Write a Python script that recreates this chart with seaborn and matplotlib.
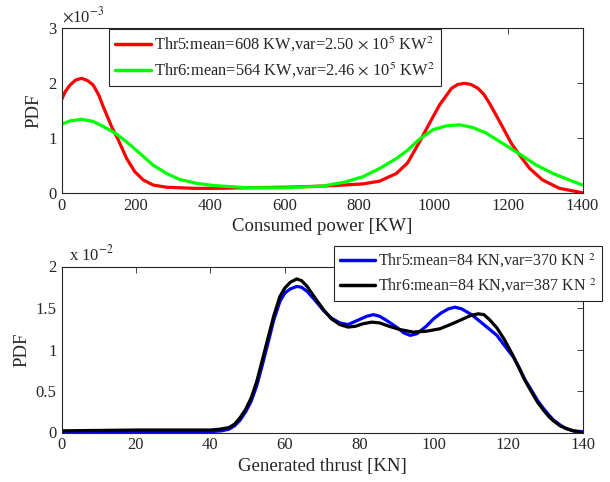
import numpy as np
import pandas as pd
import matplotlib
matplotlib.use("Agg")
import matplotlib.pyplot as plt
import seaborn as sns

# ---- data (top: power, PDF in units of 1e-3) ----
p5_x = [0, 10, 23, 38, 54, 70, 85, 100, 112, 135, 153, 175, 197, 220, 246, 282, 354, 420, 500, 600, 700, 760, 810, 855,
        900, 930, 962, 989, 1016, 1048, 1065, 1083, 1100, 1119, 1135, 1150, 1182, 1209, 1231, 1258, 1293, 1338, 1400]
p5_y = [1.69, 1.84, 1.96, 2.05, 2.08, 2.04, 1.96, 1.78, 1.57, 1.20, 0.96, 0.63, 0.39, 0.24, 0.15, 0.11, 0.09, 0.09, 0.10, 0.11, 0.13, 0.15, 0.17, 0.22,
        0.36, 0.55, 0.93, 1.27, 1.60, 1.90, 1.97, 1.99, 1.97, 1.90, 1.79, 1.63, 1.24, 0.90, 0.69, 0.45, 0.24, 0.09, 0.01]
p6_x = [0, 23, 54, 85, 112, 144, 175, 211, 246, 282, 318, 363, 410, 457, 500, 600, 700, 760, 810, 855,
        900, 930, 962, 998, 1034, 1070, 1105, 1141, 1186, 1231, 1276, 1320, 1365, 1400]
p6_y = [1.25, 1.31, 1.34, 1.30, 1.21, 1.09, 0.93, 0.72, 0.51, 0.36, 0.25, 0.18, 0.14, 0.12, 0.10, 0.10, 0.13, 0.20, 0.30, 0.45,
        0.63, 0.78, 0.98, 1.15, 1.22, 1.24, 1.19, 1.09, 0.90, 0.71, 0.51, 0.36, 0.24, 0.15]

# ---- data (bottom: thrust, PDF in units of 1e-2) ----
t5_x = [0, 20, 40, 43, 45, 46.5, 48, 49.5, 51, 52.5, 54, 55.5, 57, 58.7, 60, 61.5, 63.2, 64.5, 66, 68,
        70.4, 72.5, 74.8, 77, 80, 82, 83.8, 85.5, 87, 90, 92, 93.7, 95.5, 98, 100, 102, 104, 105.7, 107.5, 110.2,
        113.5, 117, 119, 121.4, 123, 124.5, 126.8, 128, 129.5, 131, 132.2, 134, 135.5, 137.5, 140]
t5_y = [0.01, 0.01, 0.01, 0.02, 0.04, 0.08, 0.15, 0.25, 0.38, 0.57, 0.82, 1.08, 1.35, 1.58, 1.68, 1.73, 1.76, 1.75, 1.70, 1.60,
        1.47, 1.38, 1.32, 1.30, 1.36, 1.40, 1.42, 1.40, 1.36, 1.27, 1.20, 1.17, 1.19, 1.28, 1.37, 1.44, 1.49, 1.51, 1.49, 1.42,
        1.30, 1.17, 1.05, 0.91, 0.78, 0.64, 0.47, 0.38, 0.29, 0.21, 0.15, 0.09, 0.05, 0.02, 0.01]
t6_x = [0, 20, 40, 42.6, 45, 46.5, 48, 49.5, 51, 52.5, 54, 55.5, 57, 58.7, 60, 61.5, 63.2, 64.5, 66, 68,
        70.4, 72.5, 74.8, 77, 79, 81, 83.4, 85.5, 88, 91, 94.5, 98, 101.7, 105, 108, 110, 112, 113.5, 115, 117,
        119, 121.4, 123, 124.5, 126.8, 128, 129.5, 131, 132.2, 134, 135.5, 137.5, 140]
t6_y = [0.02, 0.03, 0.03, 0.04, 0.06, 0.10, 0.18, 0.28, 0.42, 0.62, 0.88, 1.14, 1.40, 1.64, 1.74, 1.81, 1.85, 1.83, 1.76, 1.63,
        1.48, 1.37, 1.30, 1.27, 1.28, 1.31, 1.33, 1.32, 1.28, 1.24, 1.21, 1.22, 1.25, 1.31, 1.37, 1.41, 1.43, 1.42, 1.36, 1.26,
        1.12, 0.92, 0.77, 0.63, 0.45, 0.36, 0.27, 0.19, 0.14, 0.08, 0.05, 0.02, 0.00]

top_labels = [r"Thr5:mean=608 KW,var=2.50 $\times$ 10$^5$ KW$^2$",
              r"Thr6:mean=564 KW,var=2.46 $\times$ 10$^5$ KW$^2$"]
bot_labels = [r"Thr5:mean=84 KN,var=370 KN $^2$",
              r"Thr6:mean=84 KN,var=387 KN $^2$"]
top_xticks = [0, 200, 400, 600, 800, 1000, 1200, 1400]
top_yticks = [0, 1, 2, 3]
bot_xticks = [0, 20, 40, 60, 80, 100, 120, 140]
bot_yticks = [0, 0.5, 1, 1.5, 2]
bot_yticklabels = ["0", "0.5", "1", "1.5", "2"]

sns.set_style("white")
plt.rcParams["font.family"] = ["Liberation Serif", "DejaVu Serif"]
plt.rcParams["mathtext.fontset"] = "stix"
plt.rcParams["xtick.direction"] = "in"
plt.rcParams["ytick.direction"] = "in"

fig = plt.figure(figsize=(6.1, 4.82), dpi=100)
W, H = 610, 482
ax1 = fig.add_axes([61.5 / W, 1 - 193.3 / H, 521 / W, 165.8 / H])
ax2 = fig.add_axes([61.5 / W, 1 - 432.5 / H, 521 / W, 166 / H])

df_top = pd.concat([
    pd.DataFrame({"x": p5_x, "y": p5_y, "s": top_labels[0]}),
    pd.DataFrame({"x": p6_x, "y": p6_y, "s": top_labels[1]}),
])
df_bot = pd.concat([
    pd.DataFrame({"x": t5_x, "y": t5_y, "s": bot_labels[0]}),
    pd.DataFrame({"x": t6_x, "y": t6_y, "s": bot_labels[1]}),
])

sns.lineplot(data=df_top, x="x", y="y", hue="s", palette=["#ff0000", "#00ff00"],
             estimator=None, linewidth=2.3, ax=ax1)
sns.lineplot(data=df_bot, x="x", y="y", hue="s", palette=["#0000ff", "#000000"],
             estimator=None, linewidth=2.3, ax=ax2)
for ax in (ax1, ax2):
    for ln in ax.get_lines():
        ln.set_solid_joinstyle("round")
        ln.set_solid_capstyle("round")

tick_fs = 12
for ax in (ax1, ax2):
    for sp in ax.spines.values():
        sp.set_color("#262626")
        sp.set_linewidth(0.8)
    ax.tick_params(axis="both", which="both", direction="in", top=True, right=True,
                   length=4, width=0.6, color="#262626", labelsize=tick_fs, labelcolor="#262626")
    ax.set_ylabel("PDF", fontsize=13.5, color="#262626")

ax1.set_xlim(0, 1400)
ax1.set_ylim(0, 3)
ax1.set_xticks(top_xticks)
ax1.set_yticks(top_yticks)
ax1.set_xlabel("Consumed power [KW]", fontsize=13.5, color="#262626", labelpad=3)
ax1.text(0.001, 1.01, r"$\times$10$^{-3}$", transform=ax1.transAxes, fontsize=12,
         ha="left", va="bottom", color="#262626")

ax2.set_xlim(0, 140)
ax2.set_ylim(0, 2)
ax2.set_xticks(bot_xticks)
ax2.set_yticks(bot_yticks)
ax2.set_yticklabels(bot_yticklabels)
ax2.set_xlabel("Generated thrust [KN]", fontsize=13.5, color="#262626", labelpad=3)
ax2.text(0.015, 1.01, r"x 10$^{-2}$", transform=ax2.transAxes, fontsize=12,
         ha="left", va="bottom", color="#262626")

for ax, anchor, fs in ((ax1, (109 / W, 1 - 29 / H), 11.8), (ax2, (334 / W, 1 - 245.7 / H), 11.5)):
    leg = ax.legend(loc="upper left", bbox_to_anchor=anchor, bbox_transform=fig.transFigure,
                    title=None, fontsize=fs, frameon=True, fancybox=False, borderaxespad=0,
                    handlelength=2.2, handletextpad=0.2, borderpad=0.35, labelspacing=0.45)
    leg.get_frame().set_edgecolor("#262626")
    leg.get_frame().set_linewidth(0.8)
    leg.get_frame().set_alpha(1)
    for line in leg.get_lines():
        line.set_linewidth(2.5)
    for t in leg.get_texts():
        t.set_color("#262626")

fig.savefig("out.png", dpi=100)
